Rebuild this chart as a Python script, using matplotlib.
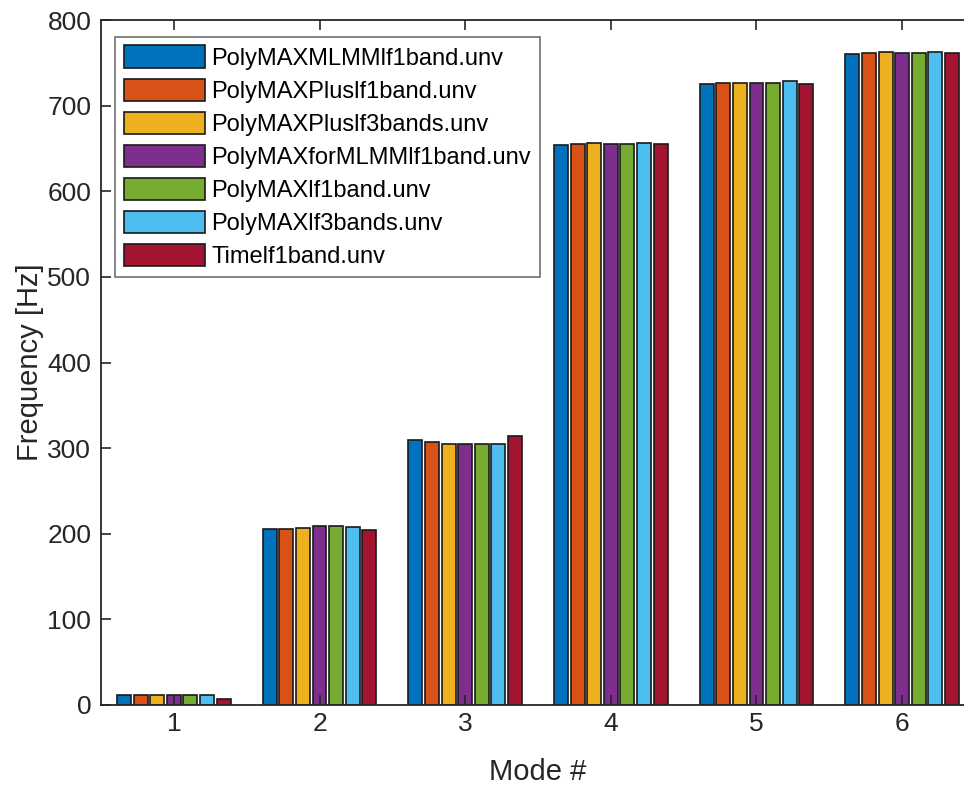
import numpy as np
import matplotlib
matplotlib.use('Agg')
import matplotlib.pyplot as plt

plt.rcParams['font.family'] = ['Liberation Sans', 'DejaVu Sans']

modes = [1, 2, 3, 4, 5, 6]
series_names = ['PolyMAXMLMMlf1band.unv', 'PolyMAXPluslf1band.unv', 'PolyMAXPluslf3bands.unv',
                'PolyMAXforMLMMlf1band.unv', 'PolyMAXlf1band.unv', 'PolyMAXlf3bands.unv',
                'Timelf1band.unv']

# frequencies per mode, one list per file
f_mlmm_1 = [12, 206, 309, 654, 725, 760]
f_plus_1 = [12, 205, 307, 655, 727, 762]
f_plus_3 = [12, 207, 305, 656, 726, 763]
f_formlmm_1 = [12, 209, 305, 655, 727, 762]
f_lf1 = [12, 209, 305, 655, 727, 762]
f_lf3 = [12, 208, 305, 656, 729, 763]
f_time_1 = [7, 204, 314, 655, 725, 762]

series = [f_mlmm_1, f_plus_1, f_plus_3, f_formlmm_1, f_lf1, f_lf3, f_time_1]
colors = ['#0072BD', '#D95319', '#EDB120', '#7E2F8E', '#77AC30', '#4DBEEE', '#A2142F']

fig = plt.figure(figsize=(9.64, 7.86), dpi=100)
W, H = 964, 786
ax = fig.add_axes([101 / W, 1 - 705 / H, 874 / W, 685 / H])

x = np.array(modes)
pitch = 0.114
width = 0.096
for i, (vals, name) in enumerate(zip(series, series_names)):
    offs = (i - 3) * pitch
    ax.bar(x + offs, vals, width=width, color=colors[i], edgecolor='#1a1a1a',
           linewidth=1.2, label=name)

axc = '#262626'
ax.set_xlim(0.5, 6.5)
ax.set_ylim(0, 800)
ax.set_xticks(modes)
ax.set_yticks(np.arange(0, 801, 100))
ax.tick_params(direction='in', length=7, width=1.2, colors=axc, labelsize=19,
               top=True, right=True)
ax.tick_params(axis='y', pad=7)
ax.tick_params(axis='x', pad=5)
for s in ax.spines.values():
    s.set_linewidth(1.3)
    s.set_color(axc)

ax.set_xlabel('Mode #', fontsize=21, color=axc, labelpad=16)
ax.set_ylabel('Frequency [Hz]', fontsize=21, color=axc, labelpad=2)

leg = ax.legend(loc='upper left', bbox_to_anchor=((115 - 101) / 874, (705 - 37) / 685),
                borderaxespad=0, fontsize=17.0, handlelength=3.45, handleheight=1.07,
                handletextpad=0.28, labelspacing=0.38, borderpad=0.36,
                fancybox=False, framealpha=1)
leg.get_frame().set_edgecolor('#707070')
leg.get_frame().set_linewidth(1.2)

fig.savefig('out.png', dpi=100)
